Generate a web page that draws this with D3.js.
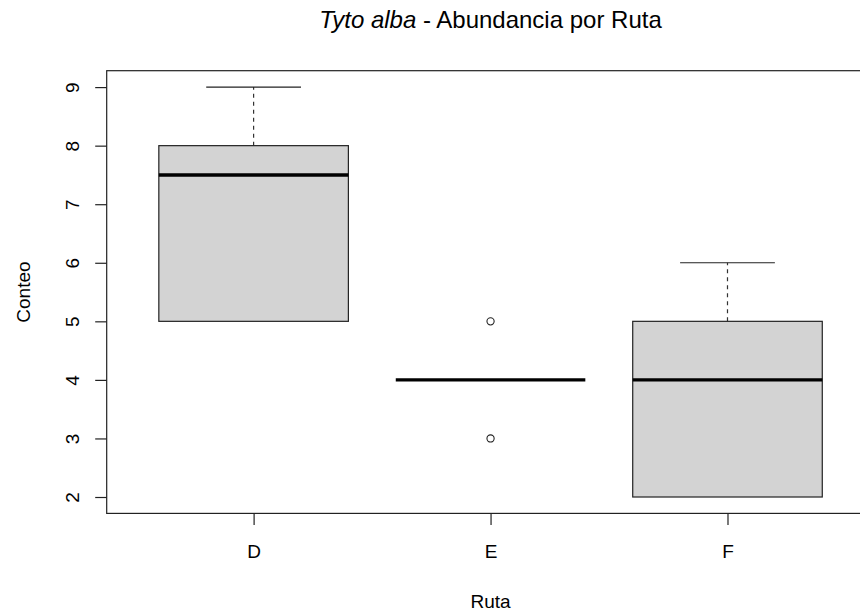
<!DOCTYPE html>
<html lang="es">
  <head>
    <meta charset="utf-8" />
    <title>Tyto alba - Abundancia por Ruta</title>
    <script src="https://d3js.org/d3.v7.min.js"></script>
    <style>
      body {
        margin: 0;
        background: #fff;
      }
      svg text {
        font-family: "Liberation Sans", Arial, sans-serif;
        fill: #000;
      }
      .axis path.domain {
        display: none;
      }
      .axis line {
        stroke: #222;
        stroke-width: 1.2px;
      }
      .axis text {
        font-size: 19px;
      }
      rect.caja {
        fill: #d3d3d3;
        stroke: #222;
        stroke-width: 1.2px;
      }
      line.mediana {
        stroke: #000;
        stroke-width: 3.4px;
      }
      line.bigote {
        stroke: #333;
        stroke-width: 1.2px;
        stroke-dasharray: 4 4;
      }
      line.tope {
        stroke: #222;
        stroke-width: 1.2px;
      }
      circle.atipico {
        fill: none;
        stroke: #222;
        stroke-width: 1.1px;
      }
      rect.marco {
        fill: none;
        stroke: #222;
        stroke-width: 1.2px;
      }
    </style>
  </head>
  <body>
    <script>
      // valores
      const rutas = ["D", "E", "F"];
      const bigoteInf = [5, 4, 2];
      const q1 = [5, 4, 2];
      const medianas = [7.5, 4, 4];
      const q3 = [8, 4, 5];
      const bigoteSup = [9, 4, 6];
      const atipicos = [[], [3, 5], []];
      const yTicks = [2, 3, 4, 5, 6, 7, 8, 9];

      let w = 860;
      let h = 612;
      let plotLeft = 106.7;
      let plotRight = 874.4;
      let plotTop = 70.7;
      let plotBottom = 513.4;

      let data = rutas.map((r, i) => ({
        ruta: r,
        lo: bigoteInf[i],
        q1: q1[i],
        med: medianas[i],
        q3: q3[i],
        hi: bigoteSup[i],
        out: atipicos[i],
      }));

      let svg = d3
        .select("body")
        .append("svg")
        .attr("width", w)
        .attr("height", h);

      let x_scale = d3
        .scalePoint()
        .domain(rutas)
        .range([plotLeft, plotRight])
        .padding(0.62);
      let step = x_scale.step();

      // rango como en R: extension del 4%
      let allValues = [];
      data.forEach((d) => {
        allValues.push(d.lo, d.hi, ...d.out);
      });
      let ext = d3.extent(allValues);
      let pad = (ext[1] - ext[0]) * 0.04;
      let y_scale = d3
        .scaleLinear()
        .domain([ext[0] - pad, ext[1] + pad])
        .range([plotBottom, plotTop]);

      let half = step * 0.4;
      let capHalf = step * 0.2;

      let g = svg.selectAll("g.box").data(data).join("g").attr("class", "box");

      // bigotes
      g.filter((d) => d.hi > d.q3)
        .append("line")
        .attr("class", "bigote")
        .attr("x1", (d) => x_scale(d.ruta))
        .attr("x2", (d) => x_scale(d.ruta))
        .attr("y1", (d) => y_scale(d.q3))
        .attr("y2", (d) => y_scale(d.hi));
      g.filter((d) => d.lo < d.q1)
        .append("line")
        .attr("class", "bigote")
        .attr("x1", (d) => x_scale(d.ruta))
        .attr("x2", (d) => x_scale(d.ruta))
        .attr("y1", (d) => y_scale(d.q1))
        .attr("y2", (d) => y_scale(d.lo));

      // topes
      g.filter((d) => d.hi > d.q3)
        .append("line")
        .attr("class", "tope")
        .attr("x1", (d) => x_scale(d.ruta) - capHalf)
        .attr("x2", (d) => x_scale(d.ruta) + capHalf)
        .attr("y1", (d) => y_scale(d.hi))
        .attr("y2", (d) => y_scale(d.hi));
      g.filter((d) => d.lo < d.q1)
        .append("line")
        .attr("class", "tope")
        .attr("x1", (d) => x_scale(d.ruta) - capHalf)
        .attr("x2", (d) => x_scale(d.ruta) + capHalf)
        .attr("y1", (d) => y_scale(d.lo))
        .attr("y2", (d) => y_scale(d.lo));

      // cajas
      g.filter((d) => d.q3 > d.q1)
        .append("rect")
        .attr("class", "caja")
        .attr("x", (d) => x_scale(d.ruta) - half)
        .attr("width", half * 2)
        .attr("y", (d) => y_scale(d.q3))
        .attr("height", (d) => y_scale(d.q1) - y_scale(d.q3));

      // medianas
      g.append("line")
        .attr("class", "mediana")
        .attr("x1", (d) => x_scale(d.ruta) - half)
        .attr("x2", (d) => x_scale(d.ruta) + half)
        .attr("y1", (d) => y_scale(d.med))
        .attr("y2", (d) => y_scale(d.med));

      // atipicos
      g.selectAll("circle")
        .data((d) => d.out.map((v) => ({ ruta: d.ruta, v: v })))
        .join("circle")
        .attr("class", "atipico")
        .attr("cx", (d) => x_scale(d.ruta))
        .attr("cy", (d) => y_scale(d.v))
        .attr("r", 3.6);

      // marco
      svg
        .append("rect")
        .attr("class", "marco")
        .attr("x", plotLeft)
        .attr("y", plotTop)
        .attr("width", plotRight - plotLeft)
        .attr("height", plotBottom - plotTop);

      // ejes
      let x_axis = d3.axisBottom(x_scale).tickSize(11.5).tickSizeOuter(0);
      svg
        .append("g")
        .attr("class", "x axis")
        .attr("transform", `translate(0,${plotBottom})`)
        .call(x_axis)
        .selectAll("text")
        .attr("y", 45)
        .attr("dy", null);

      let y_axis = d3
        .axisLeft(y_scale)
        .tickValues(yTicks)
        .tickSize(11.5)
        .tickSizeOuter(0);
      svg
        .append("g")
        .attr("class", "y axis")
        .attr("transform", `translate(${plotLeft},0)`)
        .call(y_axis)
        .selectAll("text")
        .attr("x", null)
        .attr("dy", null)
        .attr("text-anchor", "middle")
        .attr("transform", "translate(-28,0) rotate(-90)");

      let cx = (plotLeft + plotRight) / 2;

      // titulos
      let title = svg
        .append("text")
        .attr("x", cx)
        .attr("y", 28)
        .attr("text-anchor", "middle")
        .style("font-size", "24px");
      title.append("tspan").style("font-style", "italic").text("Tyto alba");
      title.append("tspan").text(" - Abundancia por Ruta");

      svg
        .append("text")
        .attr("x", cx)
        .attr("y", 608)
        .attr("text-anchor", "middle")
        .style("font-size", "19px")
        .text("Ruta");

      svg
        .append("text")
        .attr("transform", `translate(30,${(plotTop + plotBottom) / 2}) rotate(-90)`)
        .attr("text-anchor", "middle")
        .style("font-size", "19px")
        .text("Conteo");
    </script>
  </body>
</html>
